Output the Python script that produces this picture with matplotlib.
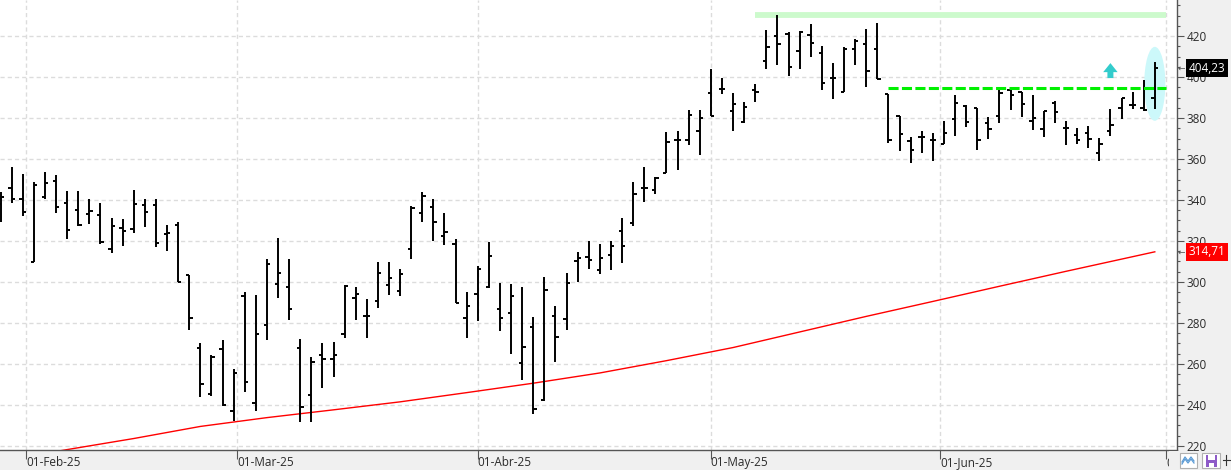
import numpy as np
import pandas as pd
import matplotlib
matplotlib.use('Agg')
import matplotlib.pyplot as plt
from matplotlib.patches import Ellipse, Rectangle, Polygon
from matplotlib.transforms import blended_transform_factory
from matplotlib.lines import Line2D

plt.rcParams['font.family'] = ['Open Sans', 'DejaVu Sans']

# ---------------- data ----------------
opens = [338.0, 345.9, 340.5, 309.8, 341.3, 349.4, 338.5, 335.1, 333.2, 332.7,
         316.3, 326.3, 325.9, 337.6, 337.6, 323.4, 327.8, 303.4, 267.8, 245.4,
         267.3, 237.1, 293.0, 240.7, 279.2, 298.9, 297.7, 268.0, 244.6, 264.6,
         262.6, 274.8, 292.4, 283.6, 290.9, 298.7, 295.8, 316.3, 333.8, 336.7,
         322.4, 318.7, 282.3, 294.0, 297.7, 286.8, 284.9, 260.5, 278.0, 242.4,
         283.4, 282.0, 310.2, 312.2, 305.7, 313.2, 324.9, 328.8, 345.9, 344.9,
         353.3, 369.3, 369.4, 373.8, 392.1, 394.0, 383.3, 378.2, 393.5, 407.6,
         420.0, 421.1, 412.5, 420.5, 411.9, 399.3, 392.7, 413.5, 416.3, 413.5,
         391.8, 381.2, 368.7, 370.7, 369.5, 367.3, 379.7, 386.0, 385.0, 377.6,
         381.0, 393.7, 392.5, 378.7, 374.6, 387.2, 375.1, 371.9, 372.5, 362.9,
         373.8, 384.9, 386.3, 385.0, 389.8]
highs = [343.9, 356.1, 352.8, 348.8, 353.7, 352.4, 344.6, 344.6, 340.7, 338.7,
         331.2, 330.9, 345.0, 340.5, 340.5, 327.8, 329.4, 303.4, 270.2, 264.2,
         271.9, 257.6, 295.1, 293.5, 311.4, 321.3, 311.1, 272.4, 263.6, 270.1,
         270.9, 298.7, 297.4, 291.5, 309.6, 309.6, 306.5, 337.1, 344.1, 340.7,
         333.8, 321.1, 295.3, 307.8, 319.7, 299.7, 299.2, 297.7, 283.1, 302.6,
         288.3, 304.6, 314.6, 320.0, 318.7, 320.0, 331.4, 348.8, 356.1, 351.2,
         373.3, 373.8, 384.1, 384.1, 404.0, 399.5, 392.2, 387.8, 396.4, 422.9,
         430.2, 421.8, 422.3, 425.9, 415.0, 406.8, 414.5, 418.4, 423.4, 426.2,
         391.8, 381.2, 370.9, 373.9, 372.6, 378.7, 391.2, 386.2, 385.0, 380.5,
         394.5, 393.8, 392.8, 391.4, 383.4, 388.3, 378.5, 375.1, 376.1, 370.1,
         384.4, 389.6, 392.7, 398.4, 407.5]
lows = [329.3, 338.5, 332.0, 309.8, 340.5, 333.7, 321.0, 327.2, 328.1, 318.5,
        314.0, 317.4, 323.9, 326.7, 316.9, 315.0, 299.8, 276.6, 243.7, 244.2,
        239.7, 232.0, 246.3, 237.1, 271.7, 292.2, 281.5, 231.7, 231.7, 248.1,
        253.7, 272.7, 281.3, 272.5, 287.2, 293.5, 293.0, 311.1, 329.4, 319.8,
        318.0, 289.6, 272.7, 281.0, 296.9, 275.9, 265.0, 252.4, 235.8, 241.8,
        261.1, 276.4, 299.8, 306.5, 303.7, 305.7, 309.1, 327.2, 338.9, 343.1,
        353.3, 354.5, 366.7, 362.1, 380.8, 391.5, 373.8, 377.7, 388.0, 403.9,
        406.0, 400.5, 404.1, 409.9, 393.8, 389.1, 392.7, 406.0, 395.3, 398.9,
        367.7, 364.1, 358.3, 362.7, 359.0, 367.3, 371.1, 375.6, 364.6, 369.8,
        377.6, 383.7, 380.5, 374.3, 370.7, 377.6, 366.7, 367.3, 365.2, 359.0,
        371.1, 379.5, 384.4, 383.3, 384.2]
closes = [341.5, 340.5, 334.3, 347.5, 348.3, 336.6, 325.4, 327.8, 334.6, 319.5,
          327.2, 324.9, 338.0, 334.1, 319.0, 323.9, 299.8, 282.4, 250.2, 263.6,
          240.0, 255.6, 251.4, 274.8, 308.9, 304.6, 286.7, 239.0, 260.8, 262.6,
          264.2, 298.0, 294.3, 283.6, 304.6, 302.1, 303.9, 336.3, 342.1, 329.4,
          324.6, 289.8, 288.5, 306.5, 312.7, 282.4, 293.2, 268.3, 238.0, 296.1,
          273.2, 299.5, 311.5, 310.7, 311.7, 317.6, 317.6, 342.9, 345.9, 350.6,
          368.3, 369.3, 381.5, 380.0, 380.8, 394.0, 386.7, 385.2, 392.5, 414.5,
          416.1, 404.9, 421.8, 416.6, 396.9, 399.3, 413.5, 417.7, 402.9, 399.2,
          369.3, 372.1, 364.4, 370.7, 369.5, 372.8, 387.5, 378.0, 369.1, 374.6,
          392.4, 391.2, 387.0, 380.0, 383.3, 382.8, 375.1, 369.4, 369.8, 367.2,
          376.6, 389.6, 386.3, 383.7, 404.23]

first_day = '2025-01-29'
last_day_plus = '2025-07-01'
holidays = ['2025-02-17', '2025-04-18', '2025-05-26', '2025-06-19']
month_starts = ['2025-02-01', '2025-03-01', '2025-04-01', '2025-05-01', '2025-06-01', '2025-07-01']
month_labels = ['01-Feb-25', '01-Mar-25', '01-Abr-25', '01-May-25', '01-Jun-25', '01-Jul-25']

# moving average read at selected bars
ma_idx = [0, 6, 12, 18, 24, 30, 36, 42, 48, 54, 60, 66, 72, 78, 84, 90, 96, 104]
ma_val = [212.7, 218.2, 223.6, 229.5, 233.8, 237.6, 241.5, 246.0, 250.6, 255.6,
          261.6, 268.0, 275.6, 283.2, 290.5, 297.9, 305.2, 314.71]

y_ticks = [220, 240, 260, 280, 300, 320, 340, 360, 380, 400, 420]
top_level = 430.5          # light green band (highs zone)
top_level_start = 68
breakout_level = 394.5     # green dashed resistance
breakout_start = 80
arrow_bar = 100
last_price_label = '404,23'
ma_label = '314,71'

# ---------------- figure ----------------
W, H = 1231, 470
fig = plt.figure(figsize=(W / 100, H / 100), dpi=100, facecolor='#f0f0f0')
ax = fig.add_axes([0, 20 / H, 1177 / W, 450 / H])
ax.set_facecolor('white')

n = len(closes)
x = np.arange(n)
ax.set_xlim(-0.05, 106.0)
ax.set_ylim(218.0, 437.6)

# trading-day calendar -> month tick positions
days = pd.bdate_range(first_day, last_day_plus)
days = days[~days.isin(pd.to_datetime(holidays))]
day_ord = np.array([d.toordinal() for d in days], dtype=float)
ms_ord = np.array([pd.Timestamp(m).toordinal() for m in month_starts], dtype=float)
month_pos = np.interp(ms_ord, day_ord, np.arange(len(days)))

# grid
grid_kw = dict(color='#dcdcdc', lw=1.0, linestyle=(0, (3, 2.2)), zorder=0.5)
for yv in y_ticks:
    ax.axhline(yv, **grid_kw)
for xv in month_pos:
    ax.axvline(xv, **grid_kw)

# highlight shapes
ax.add_patch(Ellipse((x[-1], 396.7), width=1.9, height=36.1, facecolor='#ccf8fa',
                     edgecolor='none', zorder=1))
ax.plot([top_level_start, 105], [top_level, top_level], color='#ccfacc', lw=4.2,
        solid_capstyle='butt', zorder=1.2)

# MA line
ax.plot(ma_idx, ma_val, color='#ff0000', lw=1.0, zorder=1.5)

# OHLC bars
o = np.array(opens); h = np.array(highs); l = np.array(lows); c = np.array(closes)
tk = 0.3
ax.vlines(x, l, h, color='black', lw=1.4, zorder=2)
ax.hlines(o, x - tk, x, color='black', lw=1.4, zorder=2)
ax.hlines(c, x, x + tk, color='black', lw=1.4, zorder=2)

# breakout dashed line
ax.plot([breakout_start, 105], [breakout_level, breakout_level], color='#00f000', lw=2.2,
        linestyle=(0, (3.3, 1.1)), zorder=2.2)

# up arrow
cx = arrow_bar
arrow_pts = [(cx - 0.27, 399.5), (cx - 0.27, 402.4), (cx - 0.65, 402.4), (cx, 406.8),
             (cx + 0.65, 402.4), (cx + 0.27, 402.4), (cx + 0.27, 399.5)]
ax.add_patch(Polygon(arrow_pts, closed=True, facecolor='#33cccc', edgecolor='none', zorder=2.3))

# axes styling
for s in ['left', 'top']:
    ax.spines[s].set_visible(False)
for s in ['right', 'bottom']:
    ax.spines[s].set_color('#555555')
    ax.spines[s].set_linewidth(1.0)

ax.yaxis.tick_right()
ax.set_yticks(y_ticks)
ax.set_yticks(np.arange(220, 440, 5), minor=True)
ax.tick_params(axis='y', which='major', direction='out', length=5, width=0.8,
               color='#555555', labelsize=8.5, labelcolor='#2b2b2b', pad=2)
ax.tick_params(axis='y', which='minor', direction='out', length=2.5, width=0.8, color='#555555')

ax.set_xticks(month_pos)
ax.set_xticklabels(month_labels, ha='left')
ax.tick_params(axis='x', which='major', direction='out', length=6.5, width=0.8,
               color='#555555', labelsize=8.5, labelcolor='#2b2b2b', pad=-2.2)
ax.tick_params(axis='x', which='minor', length=0)

# price labels on the right axis
tr = blended_transform_factory(ax.transAxes, ax.transData)
ax.text(1188.5 / 1177, closes[-1], last_price_label, transform=tr, ha='left', va='center',
        fontsize=8.5, color='white', clip_on=False, zorder=5,
        bbox=dict(boxstyle='square,pad=0.22', facecolor='black', edgecolor='none'))
ax.text(1188.5 / 1177, ma_val[-1], ma_label, transform=tr, ha='left', va='center',
        fontsize=8.5, color='white', clip_on=False, zorder=5,
        bbox=dict(boxstyle='square,pad=0.22', facecolor='#ff0000', edgecolor='none'))
for yv in [closes[-1], ma_val[-1]]:
    ax.text(1177.5 / 1177, yv, '\u2190', transform=tr, ha='left', va='center',
            fontsize=6.5, color='#555555', clip_on=False, zorder=5, family='DejaVu Sans')

# bottom-right toolbar area (covers clipped last date label)
ft = fig.transFigure
fig.add_artist(Rectangle((1169 / W, 0), (W - 1169) / W, 19.5 / H, transform=ft,
                         facecolor='#f0f0f0', edgecolor='none', zorder=3))
fig.add_artist(Rectangle((1179.5 / W, 2 / H), 17 / W, 15.5 / H, transform=ft,
                         facecolor='white', edgecolor='#b0b0b0', lw=0.8, zorder=4))
zx = np.array([1182, 1185, 1188, 1191, 1194]) / W
fig.add_artist(Line2D(zx, np.array([8, 13, 9, 13, 9]) / H, transform=ft, color='#5b9bd5', lw=0.9, zorder=5))
fig.add_artist(Line2D(zx, np.array([6, 11, 7, 11, 7]) / H, transform=ft, color='#5b9bd5', lw=0.9, zorder=5))
fig.add_artist(Rectangle((1201.5 / W, 2 / H), 18 / W, 15.5 / H, transform=ft,
                         facecolor='white', edgecolor='#b0b0b0', lw=0.8, zorder=4))
fig.add_artist(Rectangle((1205.5 / W, 3.5 / H), 11.5 / W, 11.5 / H, transform=ft,
                         facecolor='#8e5bc8', edgecolor='none', zorder=5))
fig.add_artist(Rectangle((1208 / W, 10 / H), 6.5 / W, 5 / H, transform=ft,
                         facecolor='white', edgecolor='none', zorder=6))
fig.add_artist(Rectangle((1208.5 / W, 3.5 / H), 5.5 / W, 3.5 / H, transform=ft,
                         facecolor='white', edgecolor='none', zorder=6))
fig.add_artist(Line2D([1226 / W, 1226 / W], [5 / H, 15 / H], transform=ft, color='#333333', lw=0.8, zorder=5))
fig.add_artist(Line2D([1223 / W, 1231 / W], [10 / H, 10 / H], transform=ft, color='#333333', lw=0.8, zorder=5))

fig.savefig('out.png', dpi=100, facecolor=fig.get_facecolor())
